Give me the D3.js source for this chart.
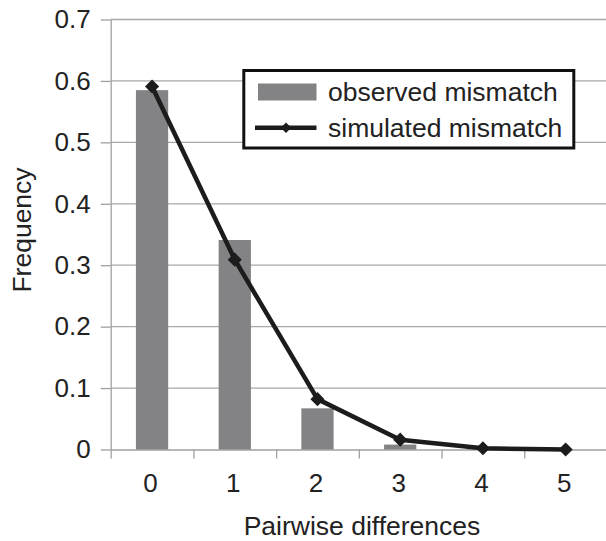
<!DOCTYPE html>
<html>
<head>
<meta charset="utf-8">
<script src="https://cdn.jsdelivr.net/npm/d3@7"></script>
<style>
  html, body { margin: 0; padding: 0; background: #fff; }
  svg { display: block; font-family: "Liberation Sans", Arial, sans-serif; }
</style>
</head>
<body>
<svg id="chart" width="606" height="541"></svg>
<script>
const categories = [0, 1, 2, 3, 4, 5];
const observed = [0.585, 0.341, 0.067, 0.008, 0.002, 0.0];
const simulated = [0.591, 0.309, 0.082, 0.016, 0.002, 0.0];
const yTicks = [0, 0.1, 0.2, 0.3, 0.4, 0.5, 0.6, 0.7];
const seriesNames = ["observed mismatch", "simulated mismatch"];
const axisTitles = { x: "Pairwise differences", y: "Frequency" };

const svg = d3.select("#chart");
const plotL = 110.7, plotR = 607, plotT = 19.5, plotB = 449.5;
const fs = 26;

const x = d3.scaleLinear().domain([-0.5, categories.length - 0.5]).range([plotL, plotR]);
const y = d3.scaleLinear().domain([0, 0.7]).range([plotB, plotT]);
const step = x(1) - x(0);
const barW = step * 0.39;

// gridlines
svg.append("g").selectAll("line").data(yTicks.filter(t => t > 0)).join("line")
  .attr("x1", plotL).attr("x2", plotR)
  .attr("y1", d => y(d)).attr("y2", d => y(d))
  .attr("stroke", "#a8a8a8").attr("stroke-width", 1.3);

// y axis
const yAxis = d3.axisLeft(y).tickValues(yTicks).tickFormat(d => d === 0 ? "0" : d3.format(".1f")(d))
  .tickSizeInner(10).tickSizeOuter(0).tickPadding(10);
const gy = svg.append("g").attr("transform", `translate(${plotL},0)`).call(yAxis);
gy.select(".domain").attr("stroke", "#a0a0a0").attr("stroke-width", 1.3);
gy.selectAll(".tick line").attr("stroke", "#a0a0a0").attr("stroke-width", 1.3);
gy.selectAll(".tick text").attr("font-size", fs).attr("fill", "#222").attr("font-family", "Liberation Sans, Arial, sans-serif");

// x axis: ticks between categories
const xTickVals = d3.range(-0.5, categories.length, 1);
const xAxis = d3.axisBottom(x).tickValues(xTickVals).tickFormat("").tickSizeInner(9).tickSizeOuter(0);
const gx = svg.append("g").attr("transform", `translate(0,${plotB})`).call(xAxis);
gx.select(".domain").attr("stroke", "#a0a0a0").attr("stroke-width", 1.3);
gx.selectAll(".tick line").attr("stroke", "#a0a0a0").attr("stroke-width", 1.3);
svg.append("g").selectAll("text").data(categories).join("text")
  .attr("x", d => x(d) - 1.5).attr("y", 492)
  .attr("text-anchor", "middle").attr("font-size", fs).attr("fill", "#222")
  .text(d => d);

// bars
svg.append("g").selectAll("rect").data(categories).join("rect")
  .attr("x", (d) => x(d) - barW / 2)
  .attr("width", barW)
  .attr("y", (d, i) => y(observed[i]))
  .attr("height", (d, i) => y(0) - y(observed[i]))
  .attr("fill", "#838386");

// line
const line = d3.line().x((d, i) => x(categories[i])).y(d => y(d));
svg.append("path").datum(simulated).attr("d", line)
  .attr("fill", "none").attr("stroke", "#1c1c1c").attr("stroke-width", 4.5).attr("stroke-linejoin", "round");
svg.append("g").selectAll("path").data(simulated).join("path")
  .attr("d", d3.symbol().type(d3.symbolSquare).size(100)())
  .attr("transform", (d, i) => `translate(${x(categories[i])},${y(d)}) rotate(45)`)
  .attr("fill", "#1c1c1c");

// axis titles
svg.append("text").attr("x", 362).attr("y", 535).attr("text-anchor", "middle")
  .attr("font-size", 26.5).attr("fill", "#222").text(axisTitles.x);
svg.append("text").attr("transform", "translate(31,230) rotate(-90)").attr("text-anchor", "middle")
  .attr("font-size", 26.5).attr("fill", "#222").text(axisTitles.y);

// legend
const lg = svg.append("g");
lg.append("rect").attr("x", 243.8).attr("y", 70.5).attr("width", 330).attr("height", 77.5)
  .attr("fill", "#fff").attr("stroke", "#111").attr("stroke-width", 3);
lg.append("rect").attr("x", 258).attr("y", 83.5).attr("width", 58.5).attr("height", 17).attr("fill", "#838386");
lg.append("line").attr("x1", 255).attr("x2", 316.5).attr("y1", 127.7).attr("y2", 127.7)
  .attr("stroke", "#1c1c1c").attr("stroke-width", 4.5);
lg.append("path").attr("transform", "translate(286,127.7) rotate(45)")
  .attr("d", d3.symbol().type(d3.symbolSquare).size(55)()).attr("fill", "#1c1c1c");
lg.selectAll("text.leg").data(seriesNames).join("text").attr("class", "leg")
  .attr("x", 328).attr("y", (d, i) => 101 + i * 36)
  .attr("font-size", 26.5).attr("fill", "#222").text(d => d);
</script>
</body>
</html>
